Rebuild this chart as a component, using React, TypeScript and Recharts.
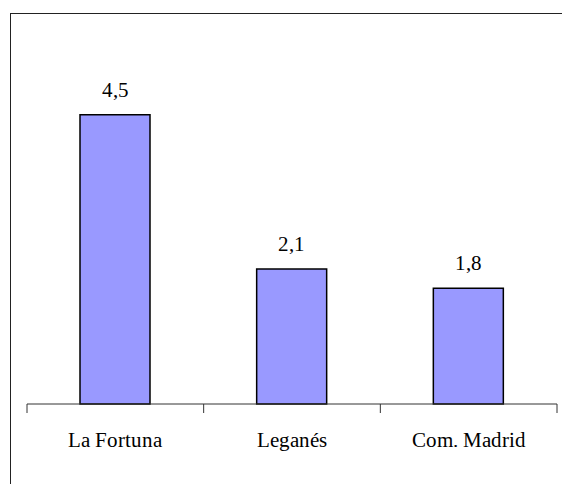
import React from "react";
import { BarChart, Bar, XAxis, YAxis, LabelList } from "recharts";

const categories = ["La Fortuna", "Leganés", "Com. Madrid"];
const values = [4.5, 2.1, 1.8];

const data = categories.map((name, i) => ({ name, value: values[i] }));

const FONT = "RefSerif, Liberation Serif, DejaVu Serif, serif";
const textStyle = { fontFamily: FONT, fontSize: 21, fill: "#000" };

const fontCss = `@font-face { font-family: RefSerif; src: local("Liberation Serif"), local("LiberationSerif"), local("LiberationSerif-Regular"), local("DejaVu Serif"), local("DejaVuSerif"); }`;

// category label in the middle, tick marks on the band edges
const CatTick = (props: any) => {
  const { x, y, payload, index } = props;
  const half = payload.offset || 0;
  return (
    <g>
      <line x1={x - half} y1={y} x2={x - half} y2={y + 9} stroke="#333" strokeWidth={1} />
      {index === categories.length - 1 && (
        <line x1={x + half} y1={y} x2={x + half} y2={y + 9} stroke="#333" strokeWidth={1} />
      )}
      <text x={x} y={y + 43} textAnchor="middle" style={textStyle}>
        {payload.value}
      </text>
    </g>
  );
};

export default function App() {
  return (
    <div
      style={{
        position: "absolute",
        left: 0,
        top: 0,
        width: 562,
        height: 484,
        overflow: "hidden",
        background: "#fff",
        fontFamily: FONT,
      }}
    >
      <style>{fontCss}</style>
      <div
        style={{
          position: "absolute",
          left: 10,
          top: 13,
          width: 600,
          height: 520,
          borderTop: "1.5px solid #222",
          borderLeft: "1.5px solid #222",
        }}
      />
      <div style={{ position: "absolute", left: 0, top: 0 }}>
        <BarChart
          width={562}
          height={484}
          data={data}
          margin={{ top: 82.5, right: 5, bottom: 50, left: 27 }}
        >
          <XAxis
            dataKey="name"
            height={30}
            tickLine={false}
            tickSize={0}
            tickMargin={0}
            axisLine={{ stroke: "#333", strokeWidth: 1 }}
            tick={<CatTick />}
            interval={0}
          />
          <YAxis hide domain={[0, 5]} />
          <Bar
            dataKey="value"
            barSize={70}
            fill="#9999FF"
            stroke="#000"
            strokeWidth={1.5}
            isAnimationActive={false}
          >
            <LabelList
              dataKey="value"
              position="top"
              offset={18}
              formatter={(v: any) => String(v).replace(".", ",")}
              style={textStyle}
            />
          </Bar>
        </BarChart>
      </div>
    </div>
  );
}
